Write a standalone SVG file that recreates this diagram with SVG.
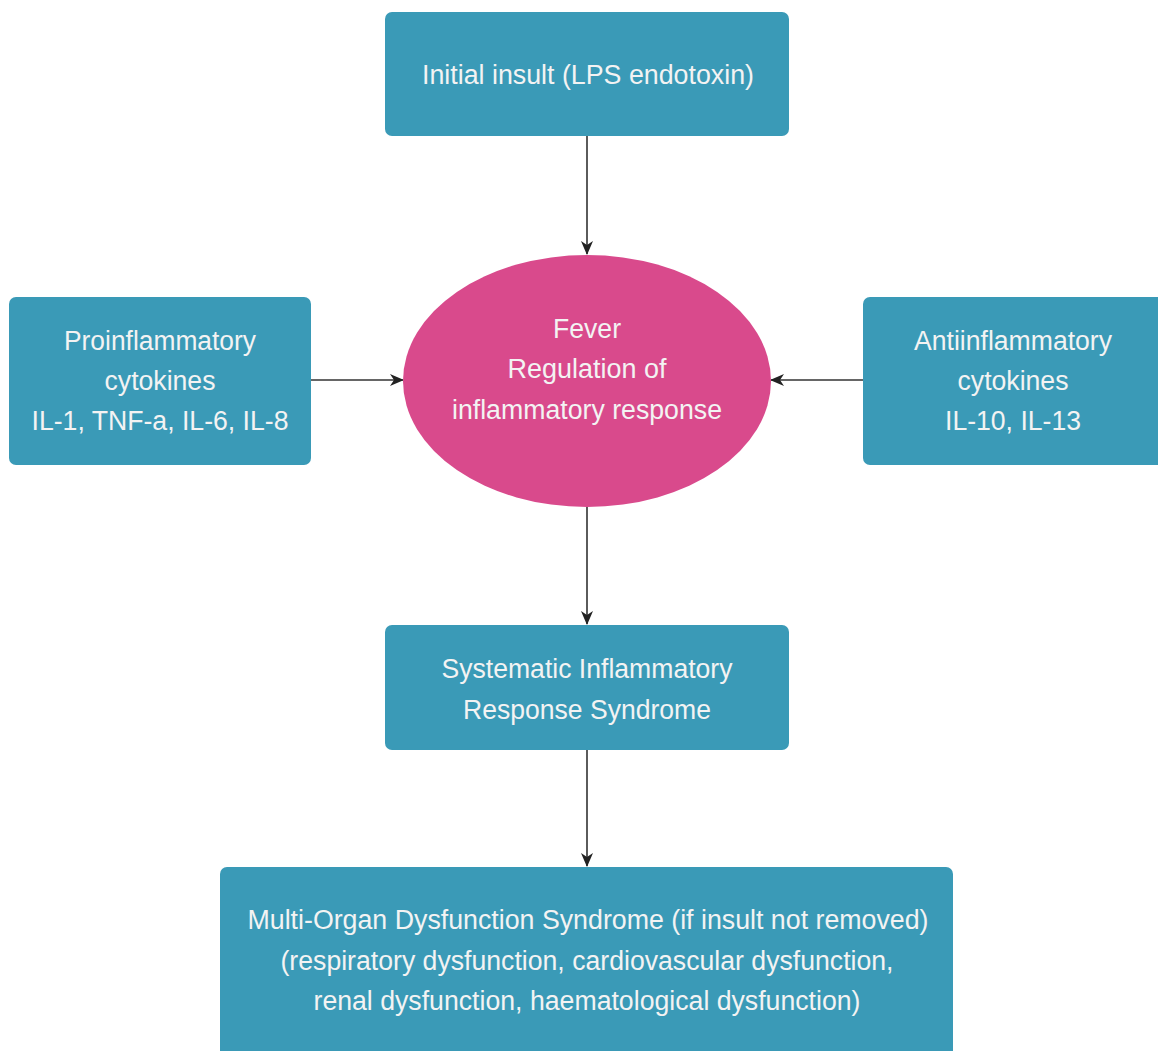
<svg xmlns="http://www.w3.org/2000/svg" width="1158" height="1051" viewBox="0 0 1158 1051">
<style>
.box{fill:#3a9ab7}
.ell{fill:#d94a8c}
.t{font-family:"Liberation Sans",Arial,sans-serif;font-size:27px;fill:#f3f3f3;text-anchor:middle}
.c{stroke:#333;stroke-width:1.6;fill:none;marker-end:url(#ah)}
</style>
<defs>
<marker id="ah" viewBox="0 0 14 12" refX="13" refY="6" markerWidth="14" markerHeight="12" markerUnits="userSpaceOnUse" orient="auto">
<path d="M0,0 L14,6 L0,12 L4,6 Z" fill="#222"/>
</marker>
</defs>
<rect width="1158" height="1051" fill="#ffffff"/>
<g id="connectors">
<line class="c" x1="587" y1="136" x2="587" y2="254"/>
<line class="c" x1="311" y1="380" x2="403" y2="380"/>
<line class="c" x1="863" y1="380" x2="771" y2="380"/>
<line class="c" x1="587" y1="507" x2="587" y2="624"/>
<line class="c" x1="587" y1="750" x2="587" y2="866"/>
</g>
<g id="initial">
<rect class="box" x="385" y="12" width="404" height="124" rx="7"/>
<text class="t" x="588" y="84" textLength="332" lengthAdjust="spacingAndGlyphs">Initial insult (LPS endotoxin)</text>
</g>
<g id="pro">
<rect class="box" x="9" y="297" width="302" height="168" rx="7"/>
<text class="t" x="160" y="350" textLength="192" lengthAdjust="spacingAndGlyphs">Proinflammatory</text>
<text class="t" x="160" y="390" textLength="111" lengthAdjust="spacingAndGlyphs">cytokines</text>
<text class="t" x="160" y="430" textLength="257" lengthAdjust="spacingAndGlyphs">IL-1, TNF-a, IL-6, IL-8</text>
</g>
<g id="anti">
<rect class="box" x="863" y="297" width="310" height="168" rx="7"/>
<text class="t" x="1013" y="350" textLength="198" lengthAdjust="spacingAndGlyphs">Antiinflammatory</text>
<text class="t" x="1013" y="390" textLength="111" lengthAdjust="spacingAndGlyphs">cytokines</text>
<text class="t" x="1013" y="430" textLength="136" lengthAdjust="spacingAndGlyphs">IL-10, IL-13</text>
</g>
<g id="fever">
<ellipse class="ell" cx="587" cy="381" rx="184" ry="126"/>
<text class="t" x="587" y="338" textLength="68" lengthAdjust="spacingAndGlyphs">Fever</text>
<text class="t" x="587" y="378" textLength="159" lengthAdjust="spacingAndGlyphs">Regulation of</text>
<text class="t" x="587" y="419" textLength="270" lengthAdjust="spacingAndGlyphs">inflammatory response</text>
</g>
<g id="sirs">
<rect class="box" x="385" y="625" width="404" height="125" rx="7"/>
<text class="t" x="587" y="678" textLength="291" lengthAdjust="spacingAndGlyphs">Systematic Inflammatory</text>
<text class="t" x="587" y="719" textLength="248" lengthAdjust="spacingAndGlyphs">Response Syndrome</text>
</g>
<g id="mods">
<rect class="box" x="220" y="867" width="733" height="200" rx="7"/>
<text class="t" x="588" y="929" textLength="681" lengthAdjust="spacingAndGlyphs">Multi-Organ Dysfunction Syndrome (if insult not removed)</text>
<text class="t" x="587" y="970" textLength="613" lengthAdjust="spacingAndGlyphs">(respiratory dysfunction, cardiovascular dysfunction,</text>
<text class="t" x="587" y="1010" textLength="547" lengthAdjust="spacingAndGlyphs">renal dysfunction, haematological dysfunction)</text>
</g>
</svg>
